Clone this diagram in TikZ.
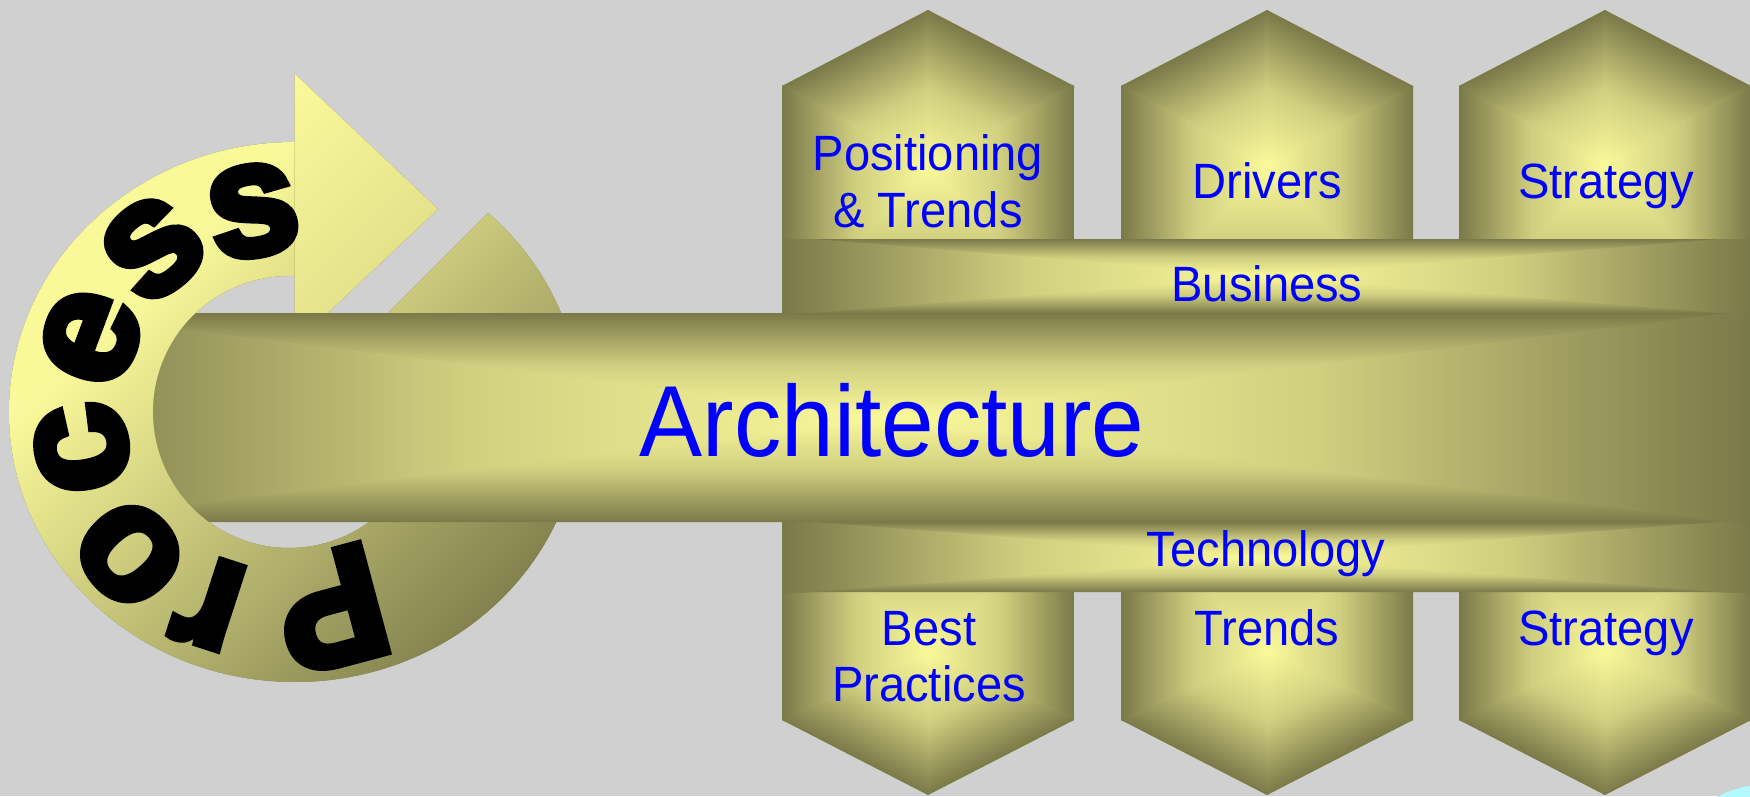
\documentclass[tikz,border=0pt]{standalone}
\usepackage{fontspec}
\setmainfont{Liberation Sans}
\newfontfamily\procfont{Liberation Sans Bold}[FakeBold=5]
\usetikzlibrary{calc}
\definecolor{bgc}{RGB}{208,208,208}
\definecolor{gl}{RGB}{250,249,154}
\definecolor{gd}{RGB}{122,121,73}
\colorlet{gm}{gl!67!gd}
\colorlet{rm}{gl!50!gd}
\definecolor{lblue}{RGB}{0,0,255}
\definecolor{cyanblob}{RGB}{178,250,255}

% one triangle of a path gradient: centre (#1,#2), edge (#3,#4)-(#5,#6),
% outward normal angle #7, distance centre-edge #8
\newcommand\gtri[8]{%
  \begin{scope}
    \coordinate (gC) at (#1,#2);
    \coordinate (gA) at (#3,#4);
    \coordinate (gB) at (#5,#6);
    \coordinate (gM) at ($(gA)!0.5!(gB)$);
    \clip ($(gC)!-0.7pt!(gM)$) -- ($(gA)!-0.7pt!(gB)$) -- ($(gB)!-0.7pt!(gA)$) -- cycle;
    \begin{scope}[transform canvas={shift={(#1,#2)},rotate=#7-90}]
      \shade[bottom color=gl,top color=gd,middle color=gm] (-2500,0) rectangle (2500,#8);
    \end{scope}
  \end{scope}}

\newcommand\toppent[1]{%
  \pgfmathsetmacro\pgxL{#1-146}\pgfmathsetmacro\pgxR{#1+146}%
  \begin{scope}
    \clip (#1,786) -- (\pgxR,710) -- (\pgxR,476) -- (\pgxL,476) -- (\pgxL,710) -- cycle;
    \fill[gm] (\pgxL,476) rectangle (\pgxR,786);
    \gtri{#1}{631}{\pgxL}{710}{#1}{786}{117.5}{137.5}
    \gtri{#1}{631}{#1}{786}{\pgxR}{710}{62.5}{137.5}
    \gtri{#1}{631}{\pgxR}{710}{\pgxR}{476}{0}{146}
    \gtri{#1}{631}{\pgxR}{476}{\pgxL}{476}{-90}{155}
    \gtri{#1}{631}{\pgxL}{476}{\pgxL}{710}{180}{146}
  \end{scope}}

\newcommand\botpent[1]{%
  \pgfmathsetmacro\pgxL{#1-146}\pgfmathsetmacro\pgxR{#1+146}%
  \begin{scope}
    \clip (\pgxL,290) -- (\pgxR,290) -- (\pgxR,76) -- (#1,1) -- (\pgxL,76) -- cycle;
    \fill[gm] (\pgxL,1) rectangle (\pgxR,290);
    \gtri{#1}{145.5}{\pgxL}{290}{\pgxR}{290}{90}{144.5}
    \gtri{#1}{145.5}{\pgxR}{290}{\pgxR}{76}{0}{146}
    \gtri{#1}{145.5}{\pgxR}{76}{#1}{1}{-62.8}{128.6}
    \gtri{#1}{145.5}{#1}{1}{\pgxL}{76}{-117.2}{128.6}
    \gtri{#1}{145.5}{\pgxL}{76}{\pgxL}{290}{180}{146}
  \end{scope}}

% rectangle path gradient over bbox (#1,#2)-(#3,#4)
\newcommand\bargrad[4]{%
  \pgfmathsetmacro\bcx{(#1+#3)/2}\pgfmathsetmacro\bcy{(#2+#4)/2}%
  \pgfmathsetmacro\bhw{(#3-#1)/2}\pgfmathsetmacro\bhh{(#4-#2)/2}%
  \fill[gm] (#1,#2) rectangle (#3,#4);
  \gtri{\bcx}{\bcy}{#1}{#4}{#3}{#4}{90}{\bhh}
  \gtri{\bcx}{\bcy}{#1}{#2}{#3}{#2}{-90}{\bhh}
  \gtri{\bcx}{\bcy}{#1}{#2}{#1}{#4}{180}{\bhw}
  \gtri{\bcx}{\bcy}{#3}{#2}{#3}{#4}{0}{\bhw}}

\tikzset{
  proc/.style={font=\procfont\fontsize{46pt}{46pt}\selectfont, text=black, inner sep=0pt, anchor=center},
  lbl/.style={font=\fontsize{14.1pt}{17pt}\selectfont, text=lblue, inner sep=0pt, anchor=base, xscale=0.95},
  biglbl/.style={font=\fontsize{28.7pt}{32pt}\selectfont, text=lblue, inner sep=0pt, anchor=base, xscale=0.937}
}

\begin{document}
\begin{tikzpicture}[x=0.01cm,y=0.01cm]
\useasboundingbox (0,0) rectangle (1750,796);
\fill[bgc] (0,0) rectangle (1750,796);

% ---- circular "Process" arrow ----
\begin{scope}
  \clip (295,654) arc[start angle=90,end angle=407.5,x radius=286,y radius=270]
        -- (385.2,480.2) arc[start angle=405,end angle=87.5,radius=136] -- cycle;
  \begin{scope}[transform canvas={rotate=-135}]
    \fill[gd] (-2500,-2500) rectangle (2500,2500);
    \fill[gl] (-2500,-2500) rectangle (2500,-258.5);
    \shade[bottom color=gl,top color=gd,middle color=rm] (-2500,-258.8) rectangle (2500,250.3);
  \end{scope}
\end{scope}
\begin{scope}
  \clip (294.5,722.5) -- (438,587) -- (294.5,451.5) -- cycle;
  \begin{scope}[transform canvas={rotate=-135}]
    \fill[gd] (-2500,-2500) rectangle (2500,2500);
    \fill[gl] (-2500,-2500) rectangle (2500,-300.8);
    \shade[bottom color=gl,top color=gd] (-2500,-301) rectangle (2500,830);
  \end{scope}
\end{scope}

% ---- pentagons ----
\toppent{928}
\toppent{1267}
\toppent{1605}
\botpent{928}
\botpent{1267}
\botpent{1605}

% ---- bars ----
\begin{scope}
  \clip (782,483) rectangle (1750,557);
  \bargrad{782}{483}{1750}{557}
\end{scope}
\begin{scope}
  \clip (782,204) rectangle (1750,274);
  \bargrad{782}{204}{1750}{274}
\end{scope}
\begin{scope}
  \clip (1750,483) -- (195.8,483) arc[start angle=133.3,end angle=234,radius=136] -- (1750,274) -- cycle;
  \bargrad{30}{274}{1750}{483}
\end{scope}

% ---- corner blob ----
\fill[cyanblob] (1770,-104) circle[radius=116];

% ---- Process letters ----
\node[proc, rotate=-165] (pP) at (331,187) {P};
\node[proc, rotate=162] (pr) at (210,193) {r};
\node[proc, rotate=131.8] (po) at (130,242) {o};
\node[proc, rotate=99.8] (pc) at (82,348) {c};
\node[proc, rotate=69.5] (pe) at (91,458.5) {e};
\node[proc, rotate=39.7] (ps1) at (153,548) {s};
\node[proc, rotate=10.2] (ps2) at (253,585) {s};

% ---- labels ----
\node[lbl] (t1a) at (928,626) {Positioning};
\node[lbl] (t1b) at (928,569) {\& Trends};
\node[lbl] (t2) at (1267,597) {Drivers};
\node[lbl] (t3) at (1606,597) {Strategy};
\node[lbl] (tbus) at (1267,494.3) {Business};
\node[biglbl] (tarch) at (892,339.6) {Architecture};
\node[lbl] (ttech) at (1266,229.3) {Technology};
\node[lbl] (b1a) at (929,150.3) {Best};
\node[lbl] (b1b) at (929,94.3) {Practices};
\node[lbl] (b2) at (1267,151) {Trends};
\node[lbl] (b3) at (1606,151) {Strategy};
\end{tikzpicture}
\end{document}
